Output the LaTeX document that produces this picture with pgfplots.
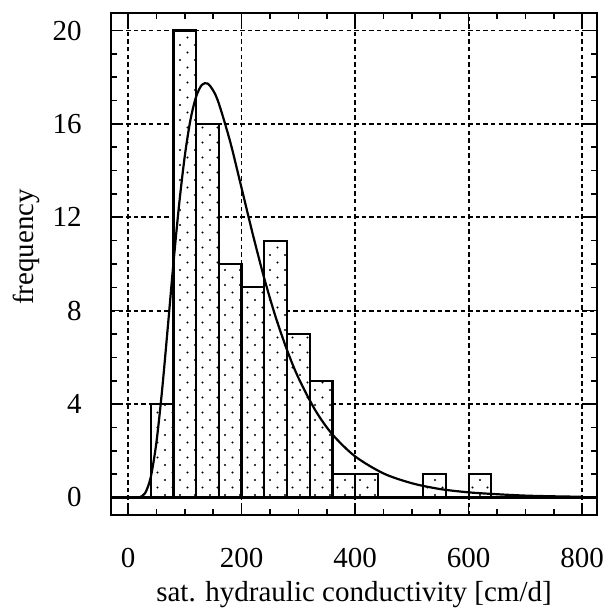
\documentclass[border=0pt]{standalone}
\usepackage{fontspec}
\setmainfont{Liberation Serif}
\usepackage{pgfplots}
\pgfplotsset{compat=1.18}
\usetikzlibrary{patterns,calc}

% sparse staggered dots, as in the scanned figure
\pgfdeclarepatternformonly{sparsedots}{\pgfqpoint{-1pt}{-1pt}}{\pgfqpoint{5pt}{5pt}}{\pgfqpoint{7.5pt}{7.5pt}}{%
  \pgfpathcircle{\pgfqpoint{0pt}{0pt}}{0.6pt}%
  \pgfpathcircle{\pgfqpoint{3.75pt}{3.75pt}}{0.6pt}%
  \pgfusepath{fill}}

\begin{document}
\begin{tikzpicture}
\begin{axis}[
    scale only axis,
    width=243pt, height=251pt,
    xmin=-30, xmax=826,
    ymin=-0.75, ymax=20.75,
    xtick={0,200,...,800},
    ytick={0,4,...,20},
    minor x tick num=3,
    minor y tick num=3,
    tick align=inside,
    major tick length=6pt,
    minor tick length=2.8pt,
    every tick/.style={black, line width=0.8pt},
    axis line style={line width=1.1pt},
    grid=major,
    major grid style={black, line width=0.85pt, dash pattern=on 2.2pt off 1.6pt},
    /pgf/number format/assume math mode=true,
    ticklabel style={font=\fontsize{14.5}{16}\selectfont, inner sep=0pt},
    xticklabel style={anchor=center, yshift=-21.25pt},
    yticklabel style={anchor=east, xshift=-14.5pt},
    xlabel={sat. hydraulic conductivity [cm/d]},
    ylabel={frequency},
    every axis x label/.style={at={(rel axis cs:0.5,-0.173)}, anchor=base,
      font=\fontsize{14.5}{16}\selectfont},
    every axis y label/.style={at={(rel axis cs:-0.159,0.534)}, anchor=base,
      rotate=90, font=\fontsize{14.5}{16}\selectfont},
    ]
\addplot[black, line width=1.1pt] coordinates {(-30,0) (826,0)};
\addplot[ybar, bar width=40, bar shift=0pt, draw=black, line width=1.1pt,
    preaction={fill=white}, pattern=sparsedots]
  coordinates {(60,4) (100,20) (140,16) (180,10) (220,9) (260,11) (300,7)
               (340,5) (380,1) (420,1) (540,1) (620,1)};
\addplot[black, line width=1.1pt, smooth] coordinates {
  (15,0) (20,0.01) (30,0.18) (40,0.87) (50,2.36) (60,4.60) (70,7.28)
  (80,10.04) (90,12.55) (100,14.63) (110,16.18) (120,17.17) (130,17.67)
  (140,17.73) (150,17.43) (160,16.87) (180,15.23) (200,13.25) (220,11.25)
  (240,9.38) (260,7.73) (280,6.32) (300,5.13) (330,3.73) (360,2.70)
  (400,1.76) (450,1.03) (500,0.61) (550,0.36) (600,0.22) (650,0.14)
  (700,0.08) (750,0.05) (800,0.03)};
\coordinate (bl) at (rel axis cs:0,0);
\coordinate (tr) at (rel axis cs:1,1);
\end{axis}
\pgfresetboundingbox
\path[use as bounding box] ($(bl)+(-55.5pt,-50pt)$) rectangle ($(tr)+(5pt,6.5pt)$);
\end{tikzpicture}
\end{document}
